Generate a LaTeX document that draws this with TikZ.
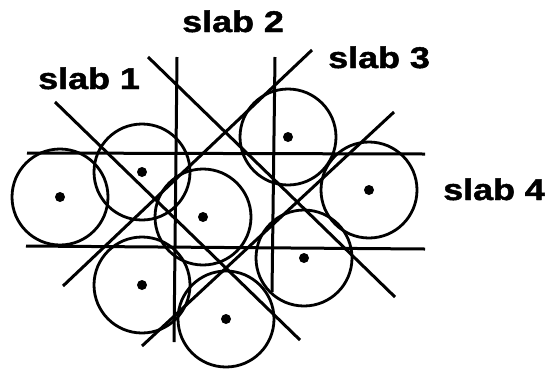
\documentclass[tikz,border=0pt]{standalone}
\usepackage{fontspec}
\setmainfont{Liberation Sans}
\newfontfamily\heavyfont[FakeBold=1.5]{Liberation Sans Bold}
\begin{document}
\begin{tikzpicture}[x=1bp,y=-1bp,
  slabline/.style={line width=3bp},
  ball/.style={line width=2.8bp},
  centre/.style={fill=black},
  lbl/.style={anchor=base west,inner sep=0pt,xscale=1.2,font=\fontsize{30}{36}\heavyfont}]
\useasboundingbox (0,0) rectangle (554,370);
% ball centres
\coordinate (c1) at (60,197);
\coordinate (c2) at (142,172);
\coordinate (c3) at (203,217);
\coordinate (c4) at (142,285);
\coordinate (c5) at (226,319);
\coordinate (c6) at (288,137);
\coordinate (c7) at (369,190);
\coordinate (c8) at (304,258);
\foreach \c in {c1,c2,c3,c4,c5,c6,c7,c8}{
  \draw[ball] (\c) circle[radius=48];
  \fill[centre] (\c) circle[radius=5];
}
% line end points
\coordinate (h1a) at (27,153);  \coordinate (h1b) at (425,154);
\coordinate (h2a) at (26,246);  \coordinate (h2b) at (425,249);
\coordinate (v1a) at (177,57);  \coordinate (v1b) at (174,342);
\coordinate (v2a) at (275,57);  \coordinate (v2b) at (272,292);
\coordinate (d1a) at (55,102);  \coordinate (d1b) at (300,340);
\coordinate (d2a) at (148,57);  \coordinate (d2b) at (395,297);
\coordinate (d3a) at (312,50);  \coordinate (d3b) at (63,286);
\coordinate (d4a) at (394,112); \coordinate (d4b) at (142,346);
\draw[slabline] (h1a) -- (h1b);
\draw[slabline] (h2a) -- (h2b);
\draw[slabline] (v1a) -- (v1b);
\draw[slabline] (v2a) -- (v2b);
\draw[slabline] (d1a) -- (d1b);
\draw[slabline] (d2a) -- (d2b);
\draw[slabline] (d3a) -- (d3b);
\draw[slabline] (d4a) -- (d4b);
% labels
\node[lbl] (s1) at (38,89) {slab 1};
\node[lbl] (s2) at (182,32) {slab 2};
\node[lbl] (s3) at (328,68) {slab 3};
\node[lbl] (s4) at (443,200) {slab 4};
\end{tikzpicture}
\end{document}
